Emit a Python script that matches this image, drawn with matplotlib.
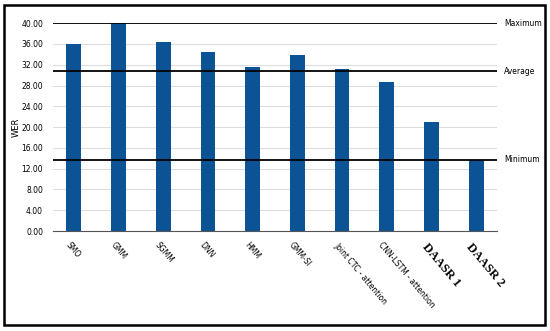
import numpy as np
import matplotlib.pyplot as plt
import matplotlib.transforms as mtransforms
from matplotlib.patches import Rectangle

models = ['SMO', 'GMM', 'SGMM', 'DNN', 'HMM', 'GMM-SI', 'Joint CTC - attention',
          'CNN-LSTM - attention', 'DAASR 1', 'DAASR 2']
wer = [36.0, 40.0, 36.4, 34.5, 31.5, 33.8, 31.2, 28.6, 21.0, 13.7]
yticks = np.arange(0, 41, 4)
ref_names = ['Maximum', 'Average', 'Minimum']
ref_values = [40.0, 30.7, 13.7]

fig = plt.figure(figsize=(5.5, 3.31), dpi=100)
ax = fig.add_axes([0.096, 0.302, 0.808, 0.628])

x = np.arange(len(models))
ax.bar(x, wer, width=0.33, color='#0b5394', zorder=2)

for name, val in zip(ref_names, ref_values):
    ax.axhline(val, color='black', lw=1.3, zorder=3)
    ax.text(1.015, val, name, transform=ax.get_yaxis_transform(),
            va='center', ha='left', fontsize=5.5)

ax.set_xlim(-0.47, 9.47)
ax.set_ylim(0, 40)
ax.set_yticks(yticks)
ax.set_yticklabels(['%.2f' % v for v in yticks], fontsize=5.5)
ax.yaxis.grid(True, color='#dddddd', lw=0.8, zorder=0)
ax.set_axisbelow(True)
ax.tick_params(axis='y', length=0, pad=7)
ax.tick_params(axis='x', length=0, pad=7)
for s in ['top', 'right', 'left']:
    ax.spines[s].set_visible(False)
ax.spines['bottom'].set_color('#555555')
ax.set_ylabel('WER', fontsize=6)
ax.yaxis.set_label_coords(-0.072, 0.5)

ax.set_xticks(x)
ax.set_xticklabels(models)
offset = mtransforms.ScaledTranslation(-3 / 100, 0, fig.dpi_scale_trans)
for i, lab in enumerate(ax.get_xticklabels()):
    lab.set_rotation(-50)
    lab.set_ha('left')
    lab.set_va('top')
    lab.set_rotation_mode('anchor')
    if models[i].startswith('DAASR'):
        lab.set_fontfamily('Liberation Serif')
        lab.set_fontweight('bold')
        lab.set_fontsize(9)
    else:
        lab.set_fontsize(5.5)
    lab.set_transform(lab.get_transform() + offset)

fig.patches.append(Rectangle((4 / 550, 6 / 331), 541 / 550, 320 / 331,
                             transform=fig.transFigure, fill=False,
                             edgecolor='black', lw=1.8))

fig.savefig('out.png', dpi=100)
